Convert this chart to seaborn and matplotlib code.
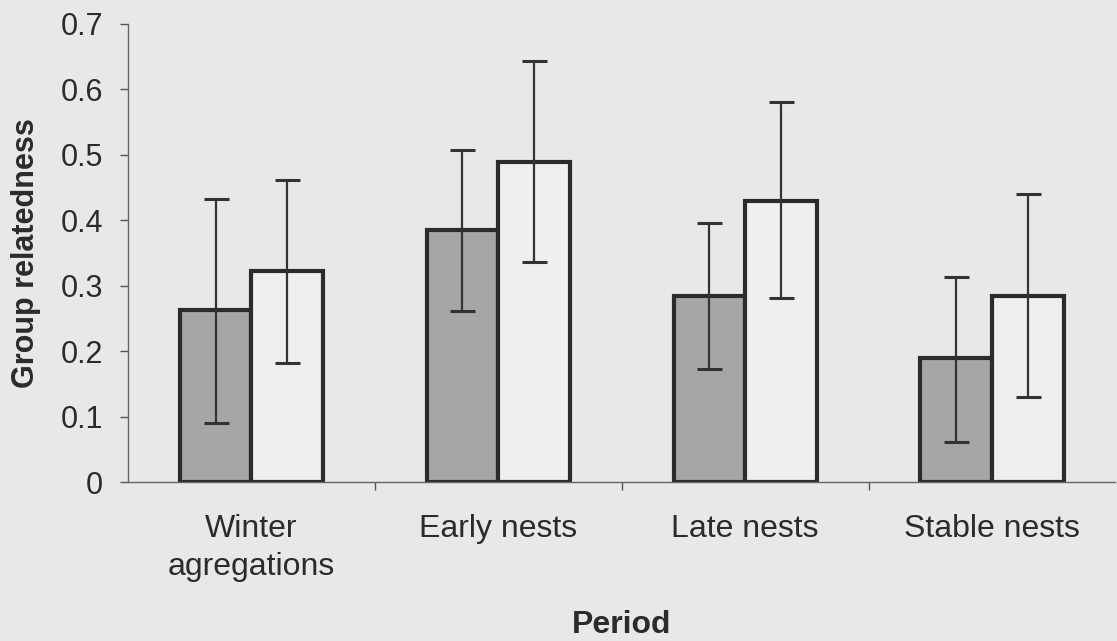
import numpy as np
import pandas as pd
import seaborn as sns
import matplotlib.pyplot as plt

periods = ['Winter\nagregations', 'Early nests', 'Late nests', 'Stable nests']
groups = ['Grey', 'Open']
grey_vals = [0.263, 0.385, 0.285, 0.190]
open_vals = [0.323, 0.489, 0.430, 0.285]
grey_lo = [0.090, 0.261, 0.172, 0.061]
grey_hi = [0.433, 0.508, 0.396, 0.314]
open_lo = [0.182, 0.336, 0.281, 0.130]
open_hi = [0.462, 0.643, 0.580, 0.440]
yticks = [0, 0.1, 0.2, 0.3, 0.4, 0.5, 0.6, 0.7]
ytick_labels = ['0', '0.1', '0.2', '0.3', '0.4', '0.5', '0.6', '0.7']

df = pd.DataFrame({
    'Period': periods * 2,
    'Group': [groups[0]] * 4 + [groups[1]] * 4,
    'r': grey_vals + open_vals,
})

sns.set_style('ticks')
plt.rcParams['font.family'] = ['Liberation Sans', 'DejaVu Sans']
bg = '#e8e8e8'
ink = '#2b2b2b'

fig = plt.figure(figsize=(11.17, 6.41), dpi=100, facecolor=bg)
ax = fig.add_axes([0.1146, 0.248, 0.884, 0.7146])
ax.set_facecolor(bg)

sns.barplot(data=df, x='Period', y='r', hue='Group', order=periods,
            hue_order=groups, palette=['#a6a6a6', '#efefef'], width=0.58,
            edgecolor=ink, linewidth=3, errorbar=None, legend=False, ax=ax)

# error bars at bar centres, bars sorted left to right alternate grey/open
bars = sorted(ax.patches, key=lambda p: p.get_x())
xs = [b.get_x() + b.get_width() / 2 for b in bars]
mids, los, his = [], [], []
for i in range(len(periods)):
    mids += [grey_vals[i], open_vals[i]]
    los += [grey_lo[i], open_lo[i]]
    his += [grey_hi[i], open_hi[i]]
mids, los, his = np.array(mids), np.array(los), np.array(his)
ax.errorbar(xs, mids, yerr=[mids - los, his - mids], fmt='none',
            ecolor='#333333', elinewidth=1.6, capsize=9, capthick=2.2, zorder=5)

ax.set_xlim(-0.5, 3.5)
ax.set_ylim(0, 0.7)
ax.set_yticks(yticks)
ax.set_yticklabels(ytick_labels)
ax.set_xticks([0.5, 1.5, 2.5], minor=True)
ax.tick_params(axis='x', which='major', length=0, pad=23, labelsize=23, labelcolor=ink)
ax.tick_params(axis='x', which='minor', length=6, width=1, color='#555555')
ax.tick_params(axis='y', length=6, width=1, color='#555555', pad=12,
               labelsize=22, labelcolor=ink)
for lab in ax.get_xticklabels():
    lab.set_linespacing(1.35)

sns.despine(ax=ax)
for s in ['left', 'bottom']:
    ax.spines[s].set_color('#666666')
    ax.spines[s].set_linewidth(1)

ax.set_xlabel('Period', fontsize=23, fontweight='bold', color=ink, labelpad=20)
ax.set_ylabel('Group relatedness', fontsize=22, fontweight='bold', color=ink, labelpad=14)

fig.savefig('out.png', dpi=100, facecolor=bg)
